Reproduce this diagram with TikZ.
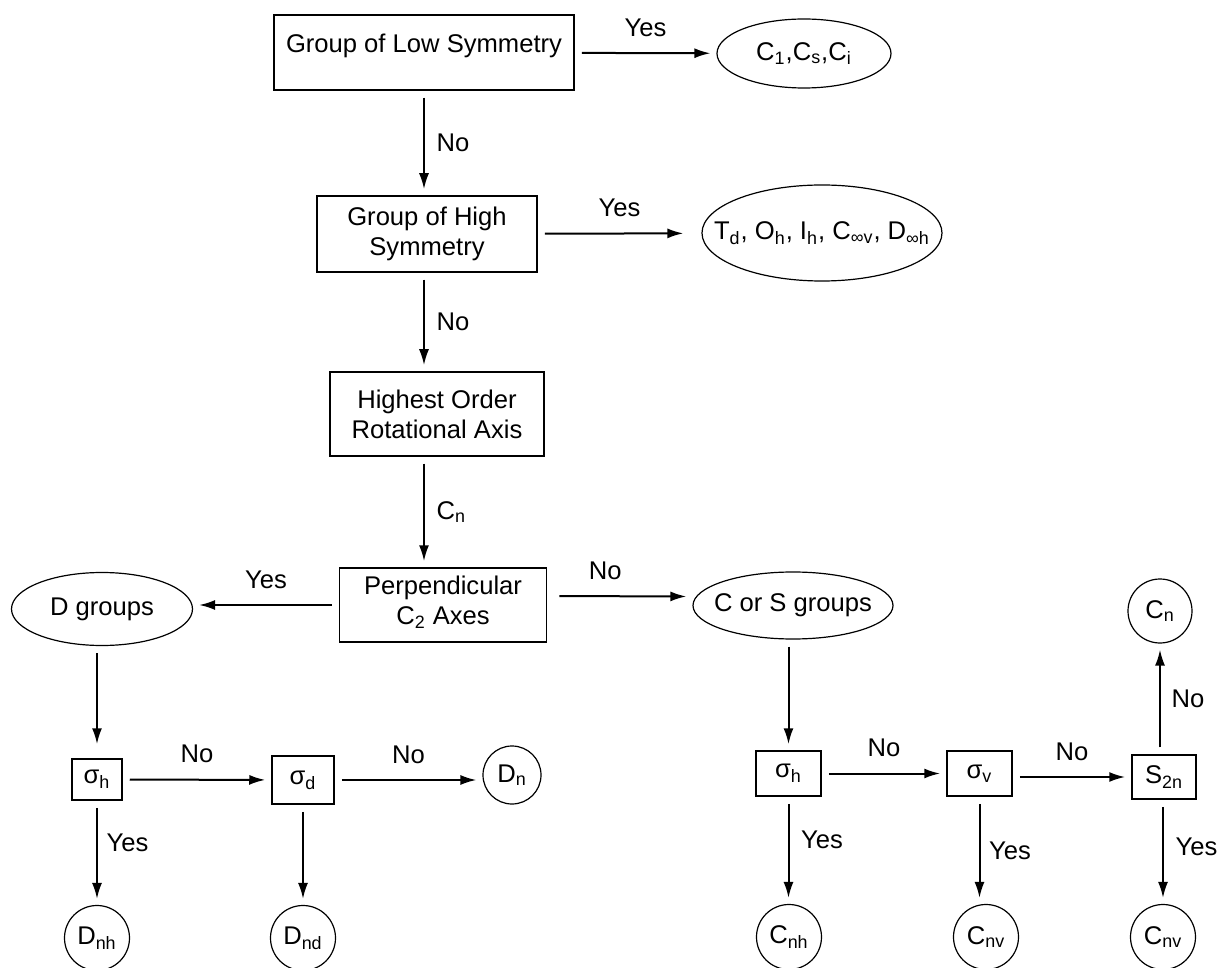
\documentclass[tikz,border=0pt]{standalone}
\usepackage{fontspec}
\setmainfont{Liberation Sans}
\usetikzlibrary{arrows.meta,shapes.geometric}

\tikzset{
  box/.style={draw, line width=0.75pt, align=center, inner sep=2pt},
  oval/.style={draw, ellipse, line width=0.6pt, inner sep=0pt},
  ring/.style={draw, circle, line width=0.6pt, inner sep=0pt, minimum size=32.5pt},
  arr/.style={->, line width=1pt, shorten <=3.5pt, shorten >=3pt},
}

\begin{document}
\begin{tikzpicture}[x=0.5pt, y=-0.5pt, >={Latex[length=8pt,width=5pt]},
    font=\fontsize{12.8}{15}\selectfont]
  \useasboundingbox (0,0) rectangle (1222,968);

  % main column
  \node[box, minimum width=150pt, minimum height=37.5pt, text depth=9pt] (low) at (424,52.5) {Group of Low Symmetry};
  \node[oval, minimum width=87pt, minimum height=34.5pt] (lowpg) at (804,53.5) {C\textsubscript{1},C\textsubscript{s},C\textsubscript{i}};
  \node[box, minimum width=110pt, minimum height=38pt] (high) at (427,234) {Group of High\\Symmetry};
  \node[oval, minimum width=120pt, minimum height=48pt] (highpg) at (822,233) {\makebox[0pt]{T\textsubscript{d}, O\textsubscript{h}, I\textsubscript{h}, C\textsubscript{∞v}, D\textsubscript{∞h}}};
  \node[box, minimum width=107pt, minimum height=42pt] (axis) at (437,414) {Highest Order\\Rotational Axis};
  \node[box, minimum width=103.5pt, minimum height=37pt, text depth=5pt] (perp) at (443,605) {Perpendicular\\C\textsubscript{2} Axes};
  \node[oval, minimum width=90.5pt, minimum height=36.5pt] (dgrp) at (102,609) {D groups};
  \node[oval, minimum width=100pt, minimum height=33.5pt] (csgrp) at (793,605.5) {\makebox[0pt]{C or S groups}};

  % D branch
  \node[box, minimum width=25pt, minimum height=20.5pt, inner sep=0pt] (dsigh) at (97,779.5) {σ\textsubscript{h}};
  \node[box, minimum width=31pt, minimum height=24pt, inner sep=0pt] (dsigd) at (303,780) {σ\textsubscript{d}};
  \node[ring, minimum size=29pt] (dn) at (512,775) {D\textsubscript{n}};
  \node[ring] (dnh) at (97,938) {D\textsubscript{nh}};
  \node[ring] (dnd) at (303,938) {D\textsubscript{nd}};

  % C or S branch
  \node[box, minimum width=32.5pt, minimum height=22.5pt, inner sep=0pt] (csigh) at (788.5,773.5) {σ\textsubscript{h}};
  \node[box, minimum width=32.5pt, minimum height=22.5pt, inner sep=0pt] (csigv) at (979.5,773.5) {σ\textsubscript{v}};
  \node[box, minimum width=32pt, minimum height=22pt, inner sep=0pt] (stwo) at (1164,777) {S\textsubscript{2n}};
  \node[ring, minimum size=32pt] (cn) at (1160,611) {C\textsubscript{n}};
  \node[ring] (cnh) at (789,937) {C\textsubscript{nh}};
  \node[ring] (cnv) at (986,937) {C\textsubscript{nv}};
  \node[ring] (cnvb) at (1163,937) {C\textsubscript{nv}};

  % connectors
  \draw[arr] (low) -- (lowpg) node[midway, above=4.5pt] (y1) {Yes};
  \draw[arr] (low.south) -- (low.south |- high.north) node[midway, right=2.5pt] (n1) {No};
  \draw[arr, shorten >=9pt] (high) -- (highpg) node[midway, above=4.5pt] (y2) {Yes};
  \draw[arr] (high.south -| low) -- (axis.north -| low) node[midway, right=2.5pt] (n2) {No};
  \draw[arr] (axis.south -| low) -- (perp.north -| low) node[midway, right=2.5pt] (cnl) {C\textsubscript{n}};
  \draw[arr] (perp.west) -- (perp.west -| dgrp.east) node[midway, above=4.5pt] (y3) {Yes};
  \draw[arr, shorten <=6pt] ([yshift=4.5pt]perp.east) -- ([yshift=4.5pt]csgrp.west) node[pos=0.4, above=4.5pt] (n3) {No};

  \draw[arr, shorten >=7pt] (dgrp.south -| dsigh) -- (dsigh.north);
  \draw[arr] (dsigh) -- (dsigd) node[midway, above=4.5pt] (n4) {No};
  \draw[arr] (dsigd.east) -- (dsigd.east -| dn.west) node[midway, above=4.5pt] (n5) {No};
  \draw[arr] (dsigh) -- (dnh) node[pos=0.4, right=1pt] (y4) {Yes};
  \draw[arr] (dsigd) -- (dnd);

  \draw[arr] (csgrp.south -| csigh) -- (csigh.north);
  \draw[arr] (csigh) -- (csigh |- cnh.north) node[pos=0.4, right=2.5pt] (y5) {Yes};
  \draw[arr] (csigh) -- (csigv) node[midway, above=4.5pt] (n6) {No};
  \draw[arr] (csigv.east |- stwo) -- (stwo.west) node[midway, above=4.5pt] (n7) {No};
  \draw[arr] (stwo.north -| cn) -- (cn.south) node[midway, right=2pt] (n8) {No};
  \draw[arr] (csigv.south) -- (csigv.south |- cnv.north) node[midway, right=1pt] (y6) {Yes};
  \draw[arr] (stwo.south -| cnvb) -- (cnvb.north) node[pos=0.45, right=2.5pt] (y7) {Yes};
\end{tikzpicture}
\end{document}
